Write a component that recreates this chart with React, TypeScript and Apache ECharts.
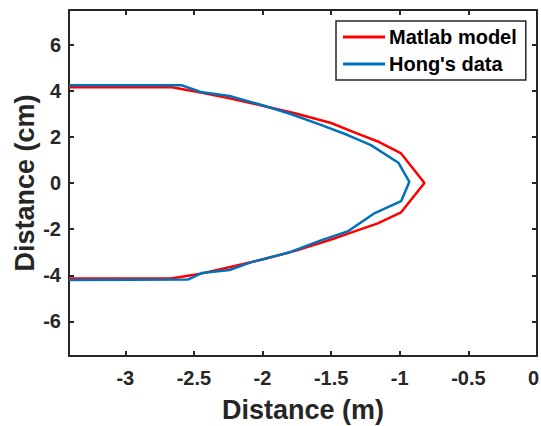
import React, { useEffect, useRef } from "react";
import * as echarts from "echarts";

const seriesNames = ["Matlab model", "Hong's data"];

const modelX = [-3.41, -2.66, -2.45, -2.25, -2.0, -1.75, -1.5, -1.34, -1.16, -0.99, -0.82, -0.99, -1.16, -1.34, -1.5, -1.75, -2.0, -2.25, -2.45, -2.67, -3.41];
const modelY = [4.15, 4.15, 3.92, 3.68, 3.35, 3.0, 2.6, 2.22, 1.8, 1.28, 0, -1.27, -1.75, -2.12, -2.45, -2.92, -3.32, -3.66, -3.93, -4.14, -4.14];

const hongX = [-3.41, -2.59, -2.44, -2.24, -2.0, -1.8, -1.58, -1.38, -1.21, -1.01, -0.93, -0.99, -1.19, -1.38, -1.58, -1.8, -2.08, -2.24, -2.44, -2.54, -3.41];
const hongY = [4.24, 4.24, 3.93, 3.77, 3.37, 3.0, 2.53, 2.08, 1.64, 0.88, 0.05, -0.79, -1.33, -2.1, -2.5, -3.0, -3.43, -3.77, -3.9, -4.18, -4.2];

const xTicks = [-3, -2.5, -2, -1.5, -1, -0.5, 0];
const yTicks = [-6, -4, -2, 0, 2, 4, 6];

const X_MIN = -3.41;
const X_MAX = 0;
const Y_MIN = -7.5;
const Y_MAX = 7.5;

const AX = "#262626";
const FONT = "'Liberation Sans', Arial, Helvetica, sans-serif";

export default function App() {
  const ref = useRef<HTMLDivElement>(null);
  useEffect(() => {
    if (!ref.current) return;
    const chart = echarts.init(ref.current, undefined, { renderer: "svg" });
    const pairs = (xs: number[], ys: number[]) => xs.map((x, i) => [x, ys[i]]);
    const tickLabel = (v: number) => String(v);
    const xTickLabel = (v: number) => (v === X_MAX ? "{edge|" + String(v) + "}" : String(v));
    const labelFont = { fontFamily: FONT, fontWeight: "bold", fontSize: 20, color: AX };
    chart.setOption({
      animation: false,
      textStyle: { fontFamily: FONT },
      grid: { left: 69, right: 4, top: 10, bottom: 70, show: false, containLabel: false, outerBoundsMode: "none" },
      legend: {
        data: seriesNames,
        orient: "vertical",
        left: 336,
        top: 21,
        icon: "rect",
        itemWidth: 42,
        itemHeight: 3,
        itemGap: 5,
        padding: [5, 9, 5, 7],
        borderColor: AX,
        borderWidth: 1.5,
        backgroundColor: "#fff",
        textStyle: { fontFamily: FONT, fontWeight: "bold", fontSize: 20, color: "#000", lineHeight: 22, padding: [0, 0, 0, -1] },
      },
      xAxis: [
        {
          type: "value",
          min: X_MIN,
          max: X_MAX,
          position: "bottom",
          name: "Distance (m)",
          nameLocation: "middle",
          nameGap: 40,
          nameMoveOverlap: false,
          nameTextStyle: { fontFamily: FONT, fontWeight: "bold", fontSize: 27, color: AX },
          axisLine: { show: true, onZero: false, lineStyle: { color: AX, width: 2 } },
          axisTick: { show: true, inside: true, length: 5, customValues: xTicks, lineStyle: { color: AX, width: 2 } },
          axisLabel: {
            customValues: xTicks,
            formatter: xTickLabel,
            ...labelFont,
            margin: 12,
            rich: { edge: { ...labelFont, padding: [0, 7, 0, 0] } },
          },
          splitLine: { show: false },
        },
        {
          type: "value",
          min: X_MIN,
          max: X_MAX,
          position: "top",
          axisLine: { show: true, onZero: false, lineStyle: { color: AX, width: 2 } },
          axisTick: { show: true, inside: true, length: 5, customValues: xTicks, lineStyle: { color: AX, width: 2 } },
          axisLabel: { show: false },
          splitLine: { show: false },
        },
      ],
      yAxis: [
        {
          type: "value",
          min: Y_MIN,
          max: Y_MAX,
          position: "left",
          name: "Distance (cm)",
          nameLocation: "middle",
          nameGap: 31,
          nameMoveOverlap: false,
          nameTextStyle: { fontFamily: FONT, fontWeight: "bold", fontSize: 27, color: AX },
          axisLine: { show: true, onZero: false, lineStyle: { color: AX, width: 2 } },
          axisTick: { show: true, inside: true, length: 5, customValues: yTicks, lineStyle: { color: AX, width: 2 } },
          axisLabel: { customValues: yTicks, formatter: tickLabel, ...labelFont, margin: 8 },
          splitLine: { show: false },
        },
        {
          type: "value",
          min: Y_MIN,
          max: Y_MAX,
          position: "right",
          axisLine: { show: true, onZero: false, lineStyle: { color: AX, width: 2 } },
          axisTick: { show: true, inside: true, length: 5, customValues: yTicks, lineStyle: { color: AX, width: 2 } },
          axisLabel: { show: false },
          splitLine: { show: false },
        },
      ],
      series: [
        {
          name: seriesNames[0],
          type: "line",
          data: pairs(modelX, modelY),
          showSymbol: false,
          symbol: "none",
          lineStyle: { color: "#FF0000", width: 2.5 },
          itemStyle: { color: "#FF0000" },
        },
        {
          name: seriesNames[1],
          type: "line",
          data: pairs(hongX, hongY),
          showSymbol: false,
          symbol: "none",
          lineStyle: { color: "#0072BD", width: 2.5 },
          itemStyle: { color: "#0072BD" },
        },
      ],
    });
    return () => chart.dispose();
  }, []);
  return <div ref={ref} style={{ width: 541, height: 426, position: "absolute", left: 0, top: 0 }} />;
}
